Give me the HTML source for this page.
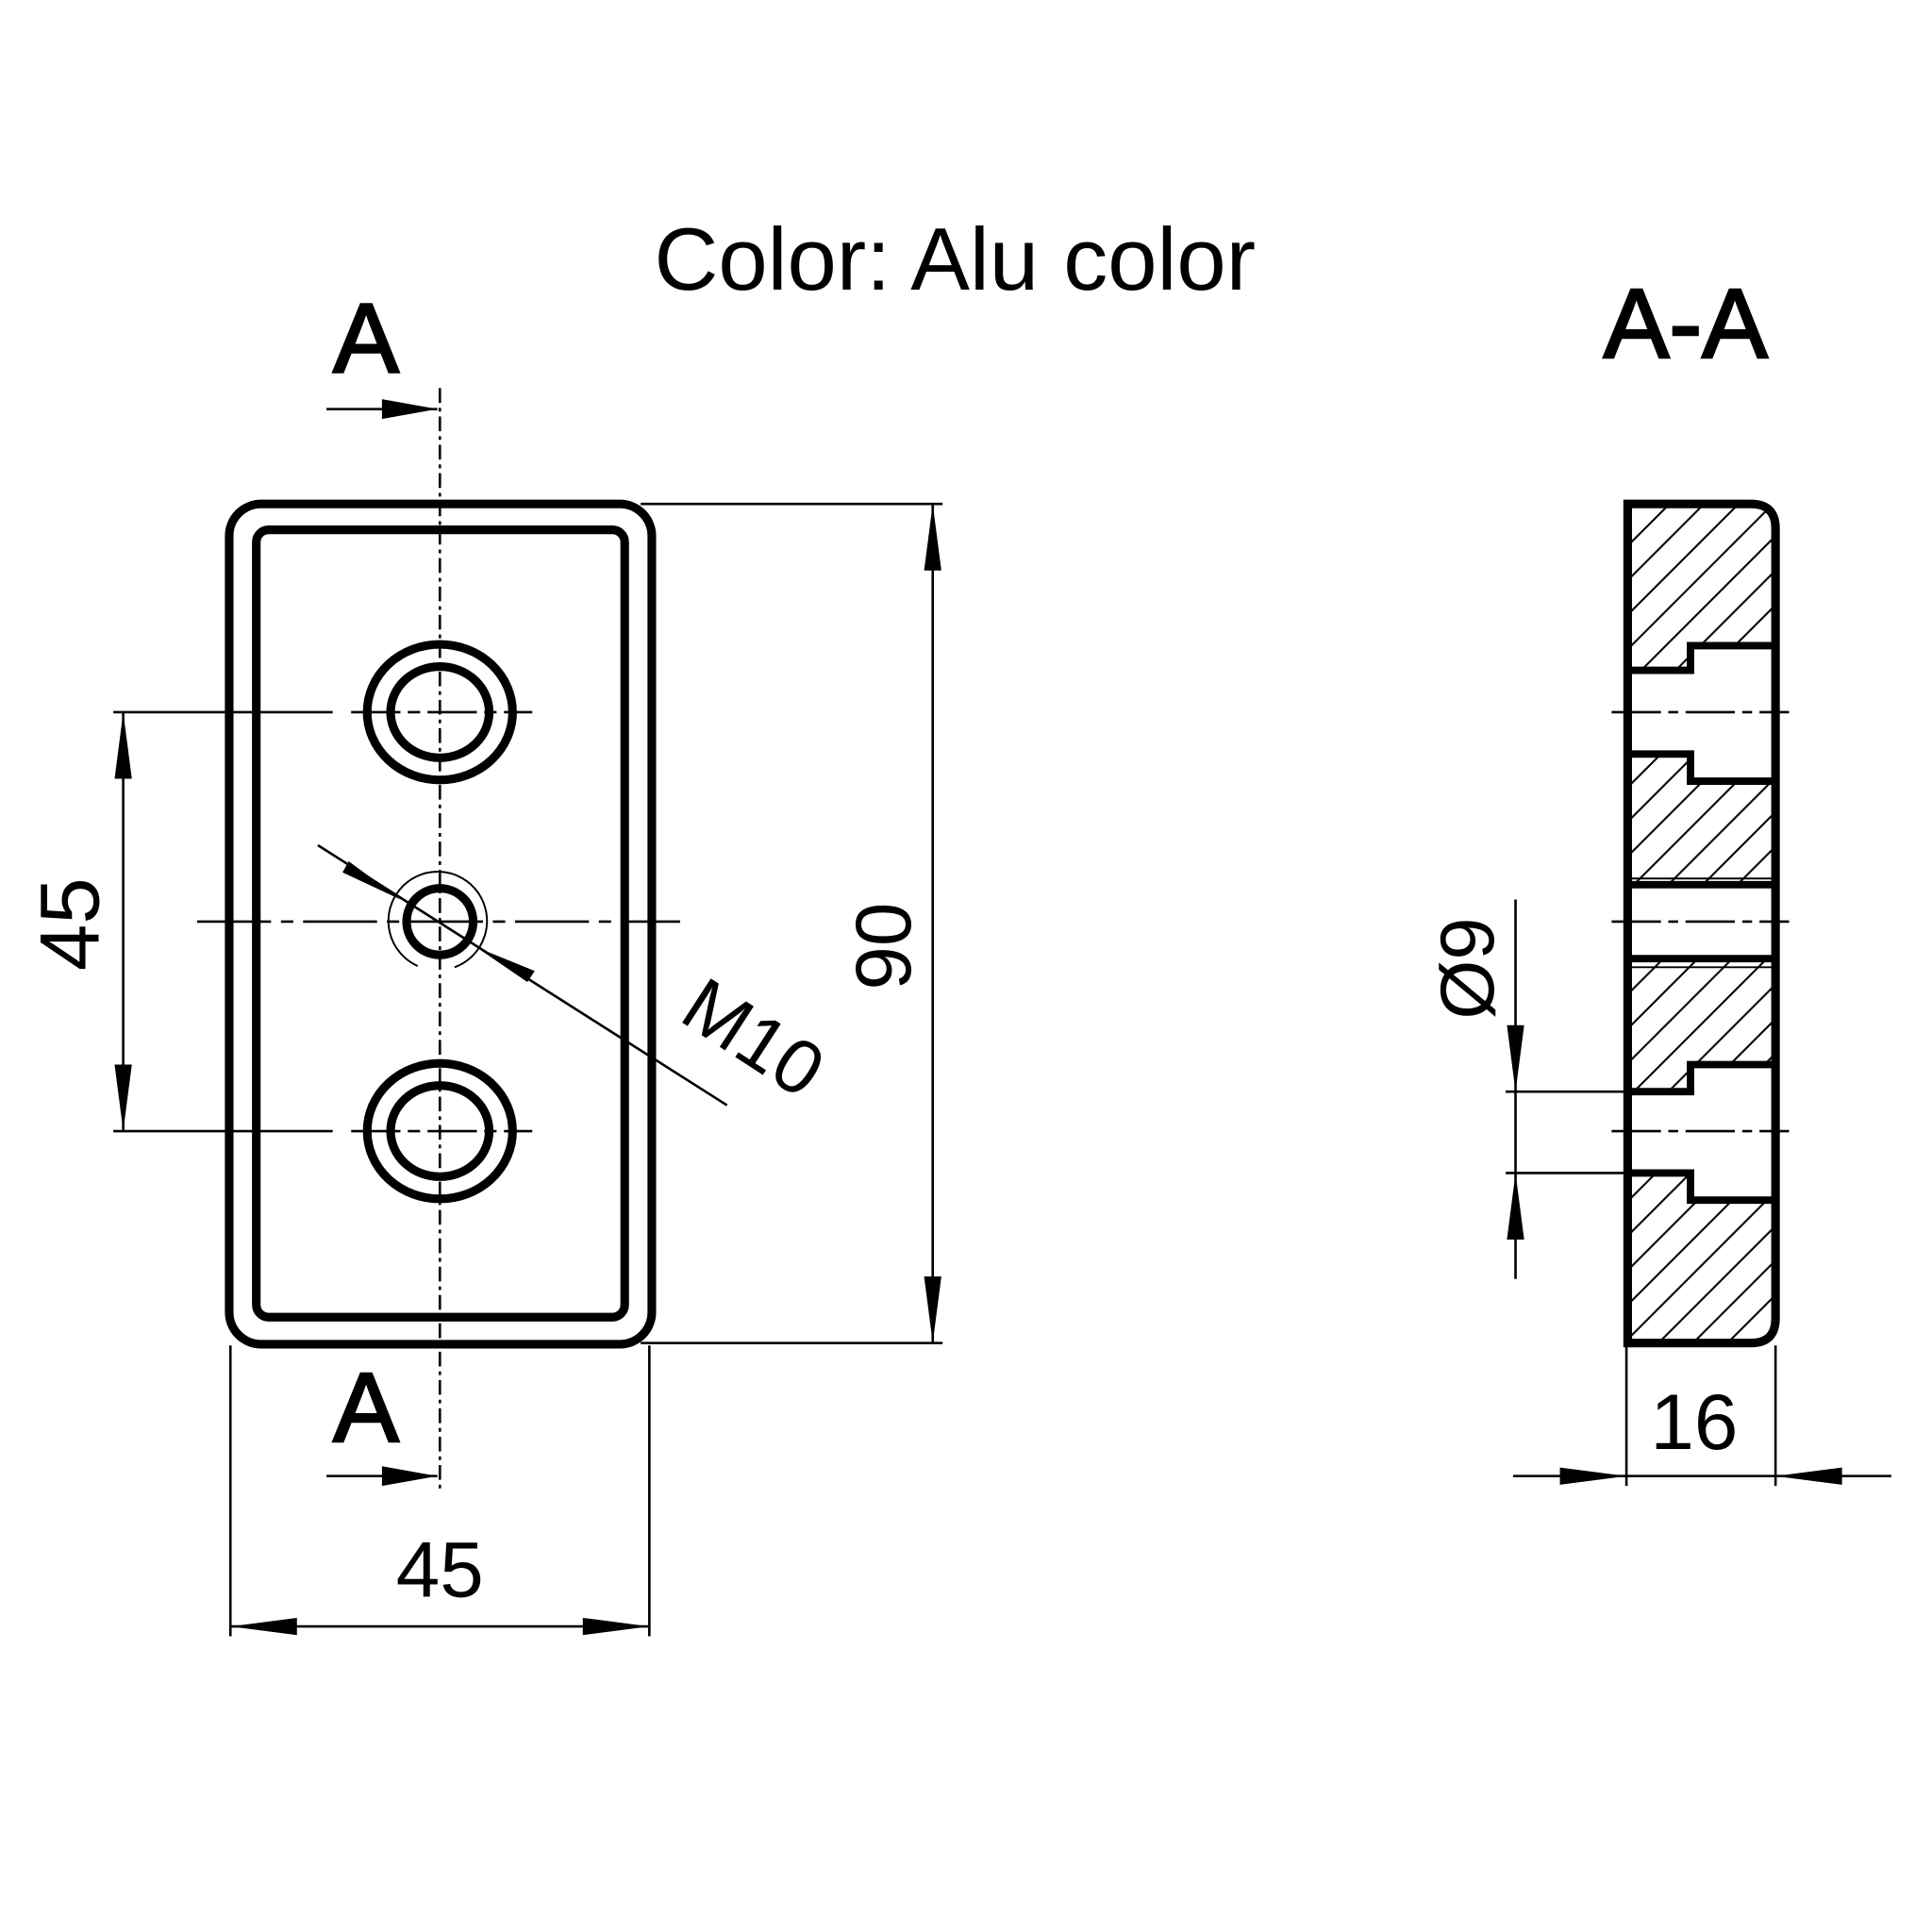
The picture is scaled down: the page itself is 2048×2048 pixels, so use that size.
<!DOCTYPE html>
<html><head><meta charset="utf-8"><style>html,body{margin:0;padding:0;background:#fff}svg{display:block}</style></head>
<body>
<svg width="2048" height="2048" viewBox="0 0 1568 1568" xmlns="http://www.w3.org/2000/svg" font-family="'Liberation Sans', 'DejaVu Sans', sans-serif">
<defs>
<pattern id="h" width="28" height="28" patternUnits="userSpaceOnUse">
<path d="M-7,7 L7,-7 M0,28 L28,0 M21,35 L35,21" stroke="#000" stroke-width="1.6"/>
</pattern>
</defs>
<rect width="1568" height="1568" fill="#fff"/>
<text x="775" y="235" font-size="72" text-anchor="middle">Color: Alu color</text>
<text x="1368" y="290" font-size="80" text-anchor="middle" stroke="#000" stroke-width="2">A-A</text>
<text x="297" y="302" font-size="80" text-anchor="middle" stroke="#000" stroke-width="2">A</text>
<text x="297" y="1170" font-size="80" text-anchor="middle" stroke="#000" stroke-width="2">A</text>

<!-- front view -->
<g fill="none" stroke="#000">
<rect x="186" y="409" width="343" height="682" rx="26" stroke-width="7"/>
<rect x="208" y="430" width="299" height="639" rx="10" stroke-width="7"/>
<line x1="357" y1="315" x2="357" y2="1210" stroke-width="2" stroke-dasharray="12,4,3,4"/>
<line x1="265" y1="332" x2="355" y2="332" stroke-width="2"/>
<line x1="265" y1="1198" x2="355" y2="1198" stroke-width="2"/>
<ellipse cx="357" cy="578" rx="59" ry="55" stroke-width="7"/>
<ellipse cx="357" cy="578" rx="40" ry="37" stroke-width="7"/>
<ellipse cx="357" cy="918" rx="59" ry="55" stroke-width="7"/>
<ellipse cx="357" cy="918" rx="40" ry="37" stroke-width="7"/>
<circle cx="357" cy="748" r="27" stroke-width="7"/>
<path d="M 339 784 A 40 40 0 1 1 369 785" stroke-width="1.5"/>
<line x1="92" y1="578" x2="270" y2="578" stroke-width="2"/>
<line x1="285" y1="578" x2="432" y2="578" stroke-width="2" stroke-dasharray="40,6,10,6"/>
<line x1="92" y1="918" x2="270" y2="918" stroke-width="2"/>
<line x1="285" y1="918" x2="432" y2="918" stroke-width="2" stroke-dasharray="40,6,10,6"/>
<line x1="160" y1="748" x2="552" y2="748" stroke-width="2" stroke-dasharray="60,8,10,8"/>
<line x1="100" y1="578" x2="100" y2="918" stroke-width="2"/>
<line x1="520" y1="409" x2="765" y2="409" stroke-width="2"/>
<line x1="520" y1="1090" x2="765" y2="1090" stroke-width="2"/>
<line x1="757" y1="409" x2="757" y2="1090" stroke-width="2"/>
<line x1="187" y1="1092" x2="187" y2="1328" stroke-width="2"/>
<line x1="527" y1="1092" x2="527" y2="1328" stroke-width="2"/>
<line x1="187" y1="1320" x2="527" y2="1320" stroke-width="2"/>
<line x1="258" y1="686" x2="590" y2="897" stroke-width="2"/>
</g>
<g fill="#000">
<path d="M355,332 L310,324 L310,340 z"/><path d="M355,1198 L310,1190 L310,1206 z"/>
<path d="M100,578 L93,632 L107,632 z"/><path d="M100,918 L93,864 L107,864 z"/>
<path d="M757,409 L750,463 L764,463 z"/><path d="M757,1090 L750,1036 L764,1036 z"/>
<path d="M187,1320 L241,1313 L241,1327 z"/><path d="M527,1320 L473,1313 L473,1327 z"/>
<path d="M325,730 L283,699 L278,708 z"/>
<path d="M387,769 L434,788 L428,797 z"/>
</g>
<text x="357" y="1296" font-size="64" text-anchor="middle">45</text>
<text transform="translate(80,750) rotate(-90)" font-size="68" text-anchor="middle">45</text>
<text transform="translate(739,768) rotate(-90)" font-size="64" text-anchor="middle">90</text>
<text transform="translate(600,860) rotate(33)" font-size="62" text-anchor="middle">M10</text>

<!-- section -->
<path d="M1321,409 L1421,409 Q1441,409 1441,429 L1441,1070 Q1441,1090 1421,1090 L1321,1090 z" fill="url(#h)"/>
<g fill="#fff" stroke="none">
<rect x="1372" y="524" width="69" height="110"/><rect x="1322" y="544" width="52" height="68"/>
<rect x="1322" y="718" width="119" height="60"/>
<rect x="1372" y="864" width="69" height="110"/><rect x="1322" y="886" width="52" height="66"/>
</g>
<g fill="none" stroke="#000">
<path d="M1321,409 L1421,409 Q1441,409 1441,429 L1441,1070 Q1441,1090 1421,1090 L1321,1090 z" stroke-width="7"/>
<path d="M1322,544 L1372,544 L1372,524 L1441,524 M1441,634 L1372,634 L1372,612 L1322,612" stroke-width="6"/>
<path d="M1322,718 L1441,718 M1322,778 L1441,778" stroke-width="6"/>
<path d="M1322,713 L1441,713 M1322,785 L1441,785" stroke-width="1.5"/>
<path d="M1322,886 L1372,886 L1372,864 L1441,864 M1441,974 L1372,974 L1372,952 L1322,952" stroke-width="6"/>
<g stroke-width="2" stroke-dasharray="40,6,8,6">
<line x1="1308" y1="578" x2="1452" y2="578"/><line x1="1308" y1="748" x2="1452" y2="748"/><line x1="1308" y1="918" x2="1452" y2="918"/>
</g>
<line x1="1222" y1="886" x2="1322" y2="886" stroke-width="2"/>
<line x1="1222" y1="952" x2="1322" y2="952" stroke-width="2"/>
<line x1="1230" y1="730" x2="1230" y2="1038" stroke-width="2"/>
<line x1="1320" y1="1092" x2="1320" y2="1206" stroke-width="2"/>
<line x1="1441" y1="1092" x2="1441" y2="1206" stroke-width="2"/>
<line x1="1228" y1="1198" x2="1535" y2="1198" stroke-width="2"/>
</g>
<g fill="#000">
<path d="M1230,886 L1223,832 L1237,832 z"/><path d="M1230,952 L1223,1006 L1237,1006 z"/>
<path d="M1320,1198 L1266,1191 L1266,1205 z"/><path d="M1441,1198 L1495,1191 L1495,1205 z"/>
</g>
<text transform="translate(1212,786) rotate(-90)" font-size="62" text-anchor="middle">Ø9</text>
<text x="1375" y="1176" font-size="64" text-anchor="middle">16</text>
</svg>
</body></html>
